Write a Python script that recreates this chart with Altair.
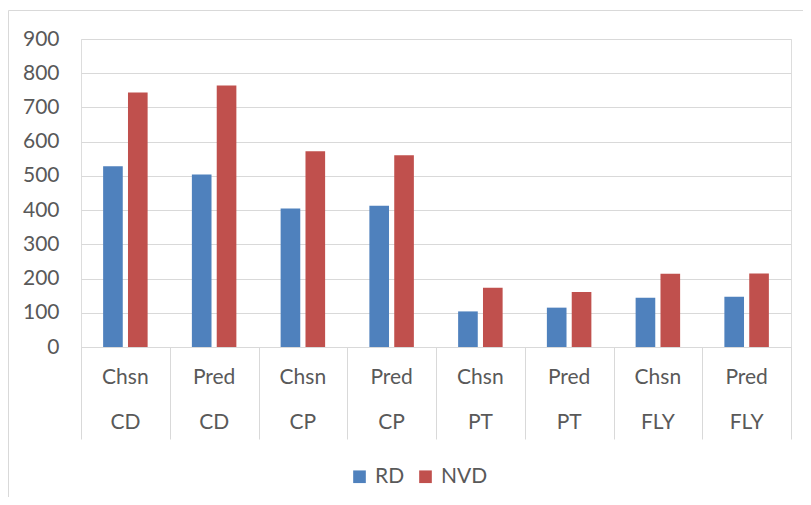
import altair as alt
import pandas as pd

methods = ["Chsn", "Pred", "Chsn", "Pred", "Chsn", "Pred", "Chsn", "Pred"]
groups = ["CD", "CD", "CP", "CP", "PT", "PT", "FLY", "FLY"]
rd = [528, 504, 405, 413, 104, 115, 144, 147]
nvd = [744, 764, 572, 560, 173, 161, 214, 215]
series = ["RD", "NVD"]
colors = ["#4F81BD", "#C0504D"]

keys = [f"{m}|{g}|{i}" for i, (m, g) in enumerate(zip(methods, groups))]

rows = []
for k, a, b in zip(keys, rd, nvd):
    rows.append({"key": k, "series": "RD", "value": a})
    rows.append({"key": k, "series": "NVD", "value": b})
bars_df = pd.DataFrame(rows)
lab_df = pd.DataFrame({"key": keys, "method": methods, "group": groups})

FONT = "Lato"
GRAY = "#595959"
LINE = "#D9D9D9"

xscale = alt.Scale(domain=keys, paddingInner=0, paddingOuter=0)

bars = alt.Chart(bars_df).mark_bar().encode(
    x=alt.X("key:N", scale=xscale, sort=keys,
            axis=alt.Axis(title=None, labels=False, tickBand="extent", tickExtra=True,
                          tickSize=92, tickColor=LINE, domainColor=LINE, grid=False)),
    xOffset=alt.XOffset("series:N", sort=series,
                        scale=alt.Scale(domain=series, paddingInner=0.21, paddingOuter=0.89)),
    y=alt.Y("value:Q", scale=alt.Scale(domain=[0, 900]),
            axis=alt.Axis(title=None, values=list(range(0, 901, 100)), domain=False, ticks=False,
                          gridColor=LINE, labelPadding=22, labelFont=FONT, labelFontSize=21,
                          labelColor=GRAY)),
    color=alt.Color("series:N", sort=series,
                    scale=alt.Scale(domain=series, range=colors),
                    legend=alt.Legend(title=None, orient="none", direction="horizontal",
                                      legendX=268, legendY=427, symbolType="square",
                                      symbolSize=160, symbolStrokeWidth=0, labelFont=FONT,
                                      labelFontSize=21, labelColor=GRAY, labelOffset=5,
                                      columnPadding=10, padding=0)),
)

row1 = alt.Chart(lab_df).mark_text(font=FONT, fontSize=21, color=GRAY, baseline="middle").encode(
    x=alt.X("key:N", scale=xscale, sort=keys),
    y=alt.value(339),
    text="method:N",
)
row2 = alt.Chart(lab_df).mark_text(font=FONT, fontSize=21, color=GRAY, baseline="middle").encode(
    x=alt.X("key:N", scale=xscale, sort=keys),
    y=alt.value(384),
    text="group:N",
)

border = alt.Chart(pd.DataFrame({"a": [0]})).mark_rect(
    fill="transparent", stroke=LINE, strokeWidth=1
).encode(
    x=alt.value(-72.5), x2=alt.value(760), y=alt.value(-28.5), y2=alt.value(520)
)

chart = alt.layer(border, bars, row1, row2).properties(
    width=710, height=308,
    autosize=alt.AutoSizeParams(type="none"),
    padding={"left": 73, "top": 31, "right": 12, "bottom": 150},
).configure_view(stroke=None).configure(background="white")

chart.save("out.html", embed_options={"renderer": "svg", "actions": False})
